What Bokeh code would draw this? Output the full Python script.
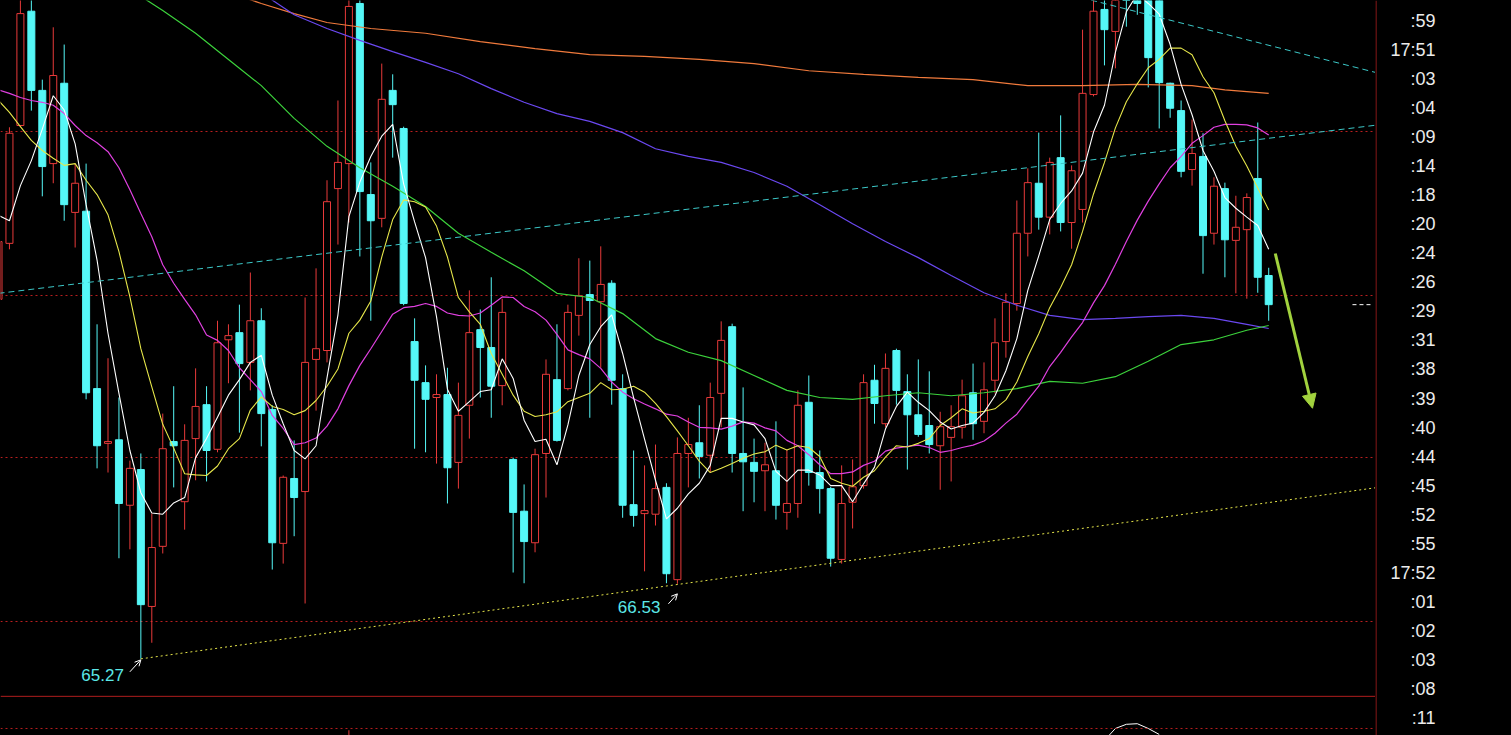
from bokeh.plotting import figure
from bokeh.models import Range1d, FixedTicker, Span, Arrow, NormalHead, OpenHead, ColumnDataSource
from bokeh.layouts import row
from bokeh.core.properties import value
from bokeh.embed import file_html
from bokeh.resources import INLINE

# ---------------- data ----------------
opens = [71.31, 72.25, 74.23, 76.15, 74.82, 73.59, 74.94, 72.77, 72.79, 69.81,
         68.89, 68.95, 67.85, 68.45, 66.15, 67.16, 68.92, 67.91, 68.97, 69.54,
         68.79, 70.63, 70.75, 70.25, 70.95, 69.46, 67.21, 68.30, 68.08, 70.30,
         70.45, 73.17, 73.59, 76.28, 73.07, 72.67, 74.82, 74.18, 70.60, 69.91,
         69.66, 69.71, 68.57, 69.53, 70.80, 70.50, 69.86, 68.62, 67.75, 67.22,
         68.72, 69.96, 69.81, 71.04, 71.39, 71.27, 71.58, 69.81, 67.86, 67.71,
         67.70, 68.15, 66.60, 68.72, 68.90, 68.69, 69.73, 70.85, 68.72, 68.57,
         68.43, 68.43, 67.73, 67.88, 69.58, 68.40, 68.13, 66.94, 67.90, 68.18,
         69.95, 69.22, 70.45, 69.76, 69.37, 69.19, 68.85, 68.99, 69.16, 69.74,
         69.26, 69.95, 70.60, 71.24, 72.42, 73.26, 72.69, 73.69, 72.60, 72.82,
         74.75, 76.18, 75.81, 77.00, 76.67, 76.41, 76.41, 74.94, 74.48, 73.49,
         73.71, 72.42, 73.17, 72.30, 72.48, 73.34, 71.71]
highs = [72.47, 74.20, 76.41, 76.41, 75.00, 75.88, 75.59, 73.59, 73.59, 70.89,
         70.32, 69.66, 68.60, 68.72, 67.71, 69.39, 69.85, 69.21, 70.15, 69.85,
         70.95, 70.89, 71.22, 71.76, 71.16, 69.53, 68.35, 68.94, 71.34, 71.83,
         73.31, 74.65, 76.41, 76.41, 73.61, 75.27, 75.09, 74.21, 70.99, 70.20,
         70.05, 70.16, 69.91, 71.46, 71.14, 71.68, 71.32, 68.65, 68.20, 68.80,
         70.30, 70.89, 71.22, 72.00, 71.96, 72.20, 71.63, 70.05, 68.77, 68.52,
         68.87, 68.22, 68.99, 69.32, 69.53, 69.91, 70.94, 70.90, 69.83, 68.97,
         68.90, 69.26, 68.79, 69.78, 70.03, 68.77, 68.16, 68.52, 68.62, 70.05,
         70.21, 70.40, 70.48, 70.05, 70.30, 70.10, 69.42, 69.53, 69.96, 70.23,
         70.25, 70.99, 71.41, 72.97, 73.51, 74.11, 73.69, 74.40, 73.56, 75.84,
         76.41, 76.41, 77.25, 77.34, 76.83, 76.50, 76.50, 74.95, 74.65, 74.33,
         74.10, 73.36, 73.27, 73.05, 73.09, 74.28, 71.84]
lows = [71.21, 72.15, 74.20, 74.48, 73.04, 73.26, 72.63, 72.18, 69.63, 68.47,
        68.40, 66.96, 67.11, 65.27, 65.54, 67.04, 68.15, 67.44, 68.27, 68.25,
        68.74, 69.90, 69.07, 69.78, 68.84, 66.77, 66.87, 67.33, 66.20, 69.44,
        70.25, 72.23, 72.60, 72.03, 70.95, 72.52, 73.69, 71.21, 68.80, 68.74,
        68.55, 67.88, 68.13, 68.97, 69.66, 69.32, 69.53, 66.72, 66.54, 67.06,
        67.98, 68.92, 69.78, 70.70, 69.32, 70.16, 69.54, 67.64, 67.49, 66.74,
        67.51, 66.54, 66.53, 68.15, 68.30, 68.40, 69.16, 68.40, 67.75, 67.90,
        67.75, 67.61, 67.44, 67.64, 68.18, 67.71, 66.82, 66.87, 67.46, 68.13,
        69.22, 69.16, 69.54, 68.45, 69.00, 68.72, 68.11, 68.25, 68.97, 68.95,
        69.06, 69.73, 70.33, 71.12, 72.03, 72.48, 72.40, 72.45, 72.16, 72.60,
        74.72, 75.24, 75.19, 75.89, 76.09, 74.87, 74.18, 74.36, 73.36, 73.22,
        71.74, 72.23, 71.68, 71.41, 71.32, 71.42, 70.95]
closes = [72.28, 74.10, 76.11, 74.82, 73.54, 75.07, 72.90, 73.26, 69.74, 68.85,
          68.92, 67.88, 68.47, 66.18, 67.14, 68.80, 68.85, 68.94, 69.51, 68.77,
          70.58, 70.70, 70.23, 70.95, 69.39, 67.22, 68.32, 67.98, 70.25, 70.48,
          72.95, 73.61, 76.23, 73.12, 72.63, 74.67, 74.58, 71.24, 69.95, 69.63,
          69.71, 68.48, 69.36, 70.75, 70.50, 69.85, 71.09, 67.73, 67.24, 68.70,
          70.05, 68.94, 71.09, 71.37, 71.29, 71.56, 69.95, 67.85, 67.68, 67.76,
          68.13, 66.70, 68.72, 68.87, 68.67, 69.66, 70.62, 68.72, 68.58, 68.42,
          68.53, 67.85, 67.88, 69.53, 68.40, 68.13, 66.96, 67.88, 68.16, 69.91,
          69.56, 70.15, 69.78, 69.37, 69.04, 68.87, 69.17, 69.17, 69.69, 69.22,
          69.79, 70.58, 71.26, 72.42, 73.27, 72.69, 73.61, 72.60, 73.47, 74.77,
          76.15, 75.84, 77.09, 76.83, 76.28, 75.37, 74.95, 74.52, 73.46, 73.76,
          72.38, 73.21, 72.31, 72.52, 73.02, 71.68, 71.22]

ma5 = [72.72, 72.63, 73.22, 73.64, 74.17, 74.73, 74.49, 73.92, 72.90, 71.97,
       70.74, 69.73, 68.77, 68.06, 67.72, 67.70, 67.89, 67.98, 68.65, 68.97,
       69.33, 69.70, 69.96, 70.25, 70.37, 69.70, 69.22, 68.77, 68.63, 68.85,
       69.99, 71.05, 72.70, 73.28, 73.71, 74.05, 74.25, 73.25, 72.61, 72.01,
       71.02, 69.80, 69.43, 69.59, 69.76, 69.79, 70.31, 69.98, 69.28, 68.92,
       68.96, 68.53, 69.20, 70.03, 70.55, 70.85, 71.05, 70.40, 69.66, 68.96,
       68.27, 67.62, 67.80, 68.04, 68.22, 68.52, 69.31, 69.31, 69.25, 69.20,
       68.97, 68.42, 68.25, 68.44, 68.44, 68.36, 68.18, 68.18, 67.91, 68.21,
       68.49, 69.13, 69.51, 69.75, 69.58, 69.44, 69.25, 69.13, 69.19, 69.23,
       69.41, 69.69, 70.11, 70.65, 71.46, 72.04, 72.65, 72.92, 73.13, 73.43,
       74.12, 74.57, 75.46, 76.14, 76.44, 76.28, 76.10, 75.59, 74.92, 74.41,
       73.81, 73.46, 73.02, 72.84, 72.69, 72.55, 72.15]
ma10 = [74.65, 74.45, 74.21, 73.98, 73.81, 73.68, 73.56, 73.59, 73.31, 73.07,
        72.73, 72.11, 71.35, 70.48, 69.84, 69.21, 68.81, 68.38, 68.36, 68.35,
        68.51, 68.80, 68.97, 69.45, 69.67, 69.51, 69.46, 69.37, 69.44, 69.61,
        69.85, 70.14, 70.74, 70.96, 71.28, 72.02, 72.65, 72.98, 72.95, 72.86,
        72.54, 72.02, 71.34, 71.10, 70.89, 70.40, 70.05, 69.70, 69.43, 69.34,
        69.37, 69.42, 69.59, 69.66, 69.73, 69.91, 69.79, 69.80, 69.85, 69.75,
        69.56, 69.34, 69.10, 68.85, 68.59, 68.40, 68.47, 68.55, 68.64, 68.71,
        68.75, 68.86, 68.78, 68.85, 68.82, 68.67, 68.30, 68.22, 68.17, 68.32,
        68.43, 68.66, 68.85, 68.83, 68.89, 68.97, 69.19, 69.32, 69.47, 69.40,
        69.43, 69.47, 69.62, 69.92, 70.35, 70.73, 71.17, 71.51, 71.89, 72.45,
        73.08, 73.61, 74.19, 74.63, 74.93, 75.20, 75.34, 75.53, 75.53, 75.42,
        75.05, 74.78, 74.31, 73.88, 73.55, 73.18, 72.81]
ma20 = [74.83, 74.77, 74.70, 74.65, 74.62, 74.57, 74.43, 74.23, 74.06, 73.94,
        73.79, 73.52, 73.15, 72.75, 72.36, 71.89, 71.58, 71.31, 71.05, 70.71,
        70.62, 70.45, 70.16, 69.96, 69.76, 69.36, 69.14, 68.87, 68.90, 68.98,
        69.18, 69.47, 69.86, 70.20, 70.48, 70.77, 71.06, 71.17, 71.19, 71.24,
        71.19, 71.08, 71.04, 71.03, 71.08, 71.21, 71.35, 71.34, 71.19, 71.10,
        70.96, 70.72, 70.46, 70.38, 70.31, 70.15, 69.92, 69.75, 69.64, 69.55,
        69.47, 69.38, 69.35, 69.25, 69.16, 69.15, 69.13, 69.18, 69.25, 69.23,
        69.15, 69.10, 68.94, 68.85, 68.70, 68.53, 68.38, 68.38, 68.41, 68.52,
        68.59, 68.76, 68.81, 68.84, 68.86, 68.82, 68.74, 68.77, 68.82, 68.86,
        68.93, 69.06, 69.23, 69.38, 69.62, 69.85, 70.18, 70.42, 70.68, 70.92,
        71.25, 71.54, 71.90, 72.28, 72.64, 72.96, 73.25, 73.52, 73.71, 73.93,
        74.06, 74.20, 74.25, 74.25, 74.24, 74.19, 74.07]

ma60_idx = [0, 5, 10, 13, 15, 18, 21, 24, 27, 30, 33, 36, 39, 42, 45, 48, 51, 54, 57, 60,
            63, 66, 69, 72, 75, 78, 81, 84, 87, 90, 93, 96, 99, 102, 105, 108, 111, 114, 116]
ma60 = [78.01, 77.40, 76.78, 76.40, 76.16, 75.78, 75.34, 74.90, 74.35, 73.88,
        73.52, 73.21, 72.87, 72.42, 72.10, 71.79, 71.41, 71.34, 71.07, 70.65,
        70.42, 70.28, 70.03, 69.78, 69.66, 69.63, 69.69, 69.74, 69.69, 69.74,
        69.81, 69.93, 69.90, 70.01, 70.27, 70.55, 70.63, 70.79, 70.87]
ma120_idx = [0, 10, 20, 24, 27, 30, 33, 36, 39, 42, 45, 48, 51, 54, 57, 60, 63, 66,
             69, 72, 75, 78, 81, 84, 87, 90, 93, 96, 99, 102, 105, 108, 111, 114, 116]
ma120 = [79.10, 78.01, 76.92, 76.46, 76.09, 75.86, 75.66, 75.47, 75.29, 75.10,
         74.85, 74.62, 74.43, 74.30, 74.11, 73.84, 73.71, 73.61, 73.44, 73.21,
         72.90, 72.58, 72.28, 72.01, 71.71, 71.42, 71.21, 71.04, 70.97, 70.99,
         71.02, 71.04, 70.99, 70.89, 70.82]
ma250_idx = [0, 13, 20, 24, 27, 30, 34, 39, 44, 49, 54, 59, 64, 69, 74, 79, 84, 89,
             94, 99, 104, 109, 112, 116]
ma250 = [77.74, 76.97, 76.53, 76.28, 76.11, 75.96, 75.86, 75.78, 75.64, 75.52,
         75.42, 75.39, 75.34, 75.27, 75.15, 75.09, 75.04, 75.00, 74.90, 74.90,
         74.92, 74.90, 74.83, 74.77]

# lower indicator pane (only its top edge is visible)
lower_idx = [101, 102, 103, 104, 105, 106]
lower_val = [63.90, 64.10, 64.17, 64.18, 64.10, 64.00]
lower_bar_idx = [32]
lower_bar_top = [64.07]

# hand-drawn analysis lines (candle index, price)
support_idx = [13, 126]
support_px = [65.27, 68.15]
channel_low_idx = [0, 126]
channel_low_px = [71.41, 74.24]
channel_high_idx = [98, 126]
channel_high_px = [76.42, 75.11]

low_label_idx = [13, 62]
low_label_val = [65.27, 66.53]

grid_levels = [74.13, 71.37, 68.65, 65.90]
pane_separator = 64.64
lower_grid = 64.10

time_labels = [":59", "17:51", ":03", ":04", ":09", ":14", ":18", ":20", ":24", ":26",
               ":29", ":31", ":38", ":39", ":40", ":44", ":45", ":52", ":55", "17:52",
               ":01", ":02", ":03", ":08", ":11"]

# ---------------- styles ----------------
RED = "#e83a3a"
CYAN = "#55f7f7"
GRID_RED = "#b81e1e"
SEP_RED = "#b01e1e"
FONT = value("Liberation Sans")

n = len(opens)
idx = list(range(n))

W, H = 1375, 735
X0, X1 = 0.1826, 125.753
Y0, Y1 = 63.982, 76.33
IDX_PER_PX = (X1 - X0) / W
PRICE_PER_PX = (Y1 - Y0) / H

p = figure(width=W, height=H, x_range=Range1d(X0, X1), y_range=Range1d(Y0, Y1),
           output_backend="svg", toolbar_location=None, min_border=0,
           background_fill_color="black", border_fill_color="black",
           outline_line_color=None)
p.axis.visible = False
p.xgrid.visible = False
p.ygrid.ticker = FixedTicker(ticks=grid_levels)
p.ygrid.grid_line_color = GRID_RED
p.ygrid.grid_line_dash = "2 3"
p.ygrid.grid_line_width = 1

p.add_layout(Span(location=pane_separator, dimension="width", line_color=SEP_RED, line_width=1))
p.add_layout(Span(location=lower_grid, dimension="width", line_color=GRID_RED,
                  line_width=1, line_dash="2 3"))

up = [i for i in idx if closes[i] >= opens[i]]
dn = [i for i in idx if closes[i] < opens[i]]

src_up = ColumnDataSource(dict(x=up, lo=[lows[i] for i in up], hi=[highs[i] for i in up],
                               o=[opens[i] for i in up], c=[closes[i] for i in up]))
src_dn = ColumnDataSource(dict(x=dn, lo=[lows[i] for i in dn], hi=[highs[i] for i in dn],
                               o=[opens[i] for i in dn], c=[closes[i] for i in dn]))

BODY_W = 7 * IDX_PER_PX
p.segment(x0="x", y0="lo", x1="x", y1="hi", source=src_up, line_color=RED, line_width=1)
p.segment(x0="x", y0="lo", x1="x", y1="hi", source=src_dn, line_color=CYAN, line_width=1)
p.vbar(x="x", width=BODY_W, bottom="o", top="c", source=src_up,
       fill_color="black", line_color=RED, line_width=1)
p.vbar(x="x", width=BODY_W, bottom="c", top="o", source=src_dn,
       fill_color=CYAN, line_color=CYAN, line_width=1)

# moving averages
p.line(ma250_idx, ma250, line_color="#f07a3c", line_width=1.2)
p.line(ma120_idx, ma120, line_color="#6a48f0", line_width=1.2)
p.line(ma60_idx, ma60, line_color="#3cd23c", line_width=1.2)
p.line(idx, ma20, line_color="#e040e0", line_width=1.2)
p.line(idx, ma10, line_color="#e6e64a", line_width=1.1)
p.line(idx, ma5, line_color="#ffffff", line_width=1.1)

# lower pane fragments
p.line(lower_idx, lower_val, line_color="white", line_width=1)
p.segment(x0=lower_bar_idx, y0=[Y0] * len(lower_bar_idx), x1=lower_bar_idx, y1=lower_bar_top,
          line_color=RED, line_width=1)

# trend / channel lines
p.line(channel_low_idx, channel_low_px, line_color="#3cc8c8", line_width=1, line_dash="6 4")
p.line(channel_high_idx, channel_high_px, line_color="#3cc8c8", line_width=1, line_dash="6 4")
p.line(support_idx, support_px, line_color="#e6e64a", line_width=1, line_dash="2 3")

# low labels with pointer arrows
lab = ColumnDataSource(dict(x=low_label_idx, y=low_label_val,
                            t=["%.2f" % v for v in low_label_val],
                            yo=[16, 23]))
p.text(x="x", y="y", text="t", source=lab, x_offset=-17, y_offset="yo",
       text_color="#5ce8e8", text_font=FONT, text_font_size="17px",
       text_align="right", text_baseline="middle")
ptr = [(-11, 13, 0, 1), (-9, 20, 0, 10)]
for (xi, yv), (sx0, sy0, sx1, sy1) in zip(zip(low_label_idx, low_label_val), ptr):
    p.add_layout(Arrow(end=OpenHead(size=6, line_color="white", line_width=1),
                       x_start=xi + sx0 * IDX_PER_PX, y_start=yv - sy0 * PRICE_PER_PX,
                       x_end=xi + sx1 * IDX_PER_PX, y_end=yv - sy1 * PRICE_PER_PX,
                       line_color="white", line_width=1))

# forecast arrow
GREEN = "#a2d23e"
p.add_layout(Arrow(end=NormalHead(size=14, fill_color=GREEN, line_color=GREEN),
                   x_start=116.6, y_start=72.08, x_end=120.0, y_end=69.48,
                   line_color=GREEN, line_width=3))

# last price marker
last = n - 1
p.segment(x0=[last + 7.65], y0=[closes[-1]], x1=[last + 9.5], y1=[closes[-1]],
          line_color="white", line_width=1, line_dash="4 3")

# ---------------- right time panel ----------------
PW = 136
p2 = figure(width=PW, height=H, x_range=Range1d(0, PW), y_range=Range1d(24.587, -0.688),
            output_backend="svg", toolbar_location=None, min_border=0,
            background_fill_color="black", border_fill_color="black",
            outline_line_color=None)
p2.axis.visible = False
p2.grid.visible = False
p2.add_layout(Span(location=0.5, dimension="height", line_color=SEP_RED, line_width=1))
p2.text(x=[60] * len(time_labels), y=list(range(len(time_labels))), text=time_labels,
        text_color="#ececec", text_font=FONT, text_font_size="18px",
        text_align="right", text_baseline="middle")

layout = row(p, p2)
html = file_html(layout, INLINE, title="chart")
html = html.replace("<head>", "<head><style>html,body{background:#000;}</style>", 1)
open("out.html", "w").write(html)
